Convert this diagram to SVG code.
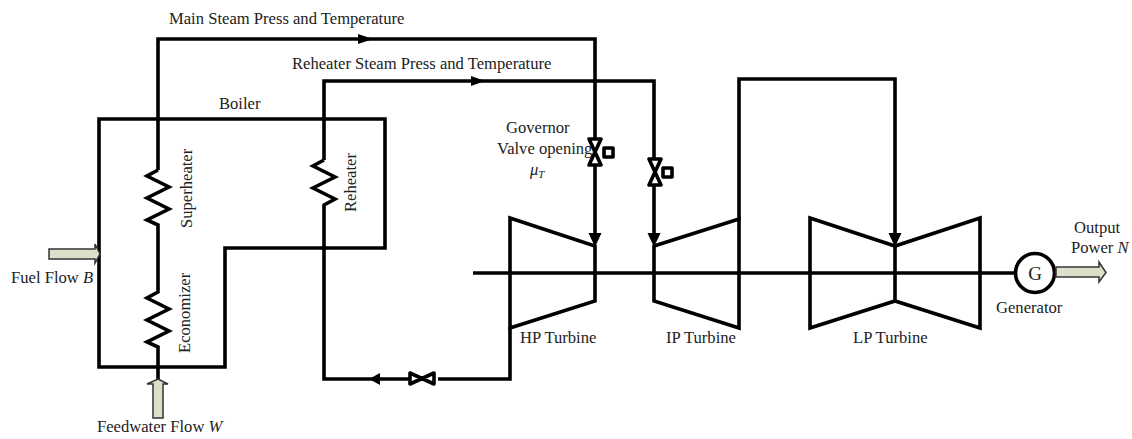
<svg xmlns="http://www.w3.org/2000/svg" width="1132" height="439" viewBox="0 0 1132 439">
<style>
.l{fill:none;stroke:#000;stroke-width:3.6;stroke-linejoin:miter}
.v{fill:#fff;stroke:#000;stroke-width:3.6;stroke-linejoin:round}
.a{fill:#dbe0cb;stroke:#333;stroke-width:1.5}
.h{fill:#000;stroke:none}
text{font-family:"Liberation Serif",serif;font-size:16.6px;fill:#222}
.i{font-style:italic}
</style>
<rect width="1132" height="439" fill="#fff"/>
<g id="connectors">
<path class="l" d="M158 170V39H595V138M595 166V236"/>
<path class="l" d="M324 160V81H654V158M654 186V236"/>
<path class="l" d="M158 170l-11 6 22 11-22 11 22 11-22 11 11 5V292l-11 6 22 11-22 11 22 11-22 11 11 5V380"/>
<path class="l" d="M324 160l-11 6 22 11-22 11 22 11-11 6V379H409M438 379H510V327"/>
<path class="l" d="M739 220V79H895V236"/>
<path class="l" d="M473 273H1015"/>
<path class="h" d="M358 34l15 5-15 5zM471 76l14 5-14 5zM588.500 233h13l-6.500 14zM647.500 233h13l-6.500 14zM888.500 233h13l-6.500 14zM380 373l-11 6 11 6z"/>
</g>
<g id="boiler"><path class="l" d="M99 119H385V248H225V367H99Z"/><text x="219" y="109">Boiler</text></g>
<g id="superheater"><text transform="translate(192 228) rotate(-90)">Superheater</text></g>
<g id="economizer"><text transform="translate(190 353) rotate(-90)">Economizer</text></g>
<g id="reheater"><text transform="translate(356 212) rotate(-90)">Reheater</text></g>
<g id="main-steam"><text x="169" y="24">Main Steam Press and Temperature</text></g>
<g id="reheat-steam"><text x="292" y="69">Reheater Steam Press and Temperature</text></g>
<g id="governor-valve">
<path class="v" d="M589 139h12l-12 26h12z"/><rect x="604" y="148" width="9" height="9" class="v"/>
<text x="506" y="133">Governor</text><text x="497" y="154">Valve opening</text><text x="530" y="175" class="i">μ<tspan style="font-size:11px" dy="3">T</tspan></text>
</g>
<g id="ip-valve"><path class="v" d="M649 159h12l-12 26h12z"/><rect x="663" y="168" width="9" height="9" class="v"/></g>
<g id="hp-turbine"><path class="l" d="M510 218 595 246V301L510 328Z"/><text x="520" y="343">HP Turbine</text></g>
<g id="ip-turbine"><path class="l" d="M654 246 739 219V328L654 301Z"/><text x="666" y="343">IP Turbine</text></g>
<g id="lp-turbine"><path class="l" d="M810 218 895 246 980 218V328L895 301 810 328Z M895 246V301"/><text x="853" y="343">LP Turbine</text></g>
<g id="generator"><circle cx="1035" cy="273" r="19.500" fill="#fff" stroke="#000" stroke-width="3.600"/><text x="1035" y="280" text-anchor="middle" style="font-size:19px">G</text><text x="996" y="313">Generator</text></g>
<g id="output-power"><path class="a" d="M1056 267H1099V262L1106 272.500 1099 282V277H1056Z"/><text x="1074" y="233">Output</text><text x="1071" y="253">Power <tspan class="i">N</tspan></text></g>
<g id="fuel-flow"><path class="a" d="M49 249H95V244L100 254 95 263V259H49Z"/><text x="11" y="283">Fuel Flow <tspan class="i">B</tspan></text></g>
<g id="feedwater-flow"><path class="a" d="M153 418V384H147L158 379 168 384H163V418Z"/><text x="97" y="432">Feedwater Flow <tspan class="i">W</tspan></text></g>
<g id="reheat-valve"><path class="v" d="M410 373v11l24-11v11z"/></g>
</svg>
